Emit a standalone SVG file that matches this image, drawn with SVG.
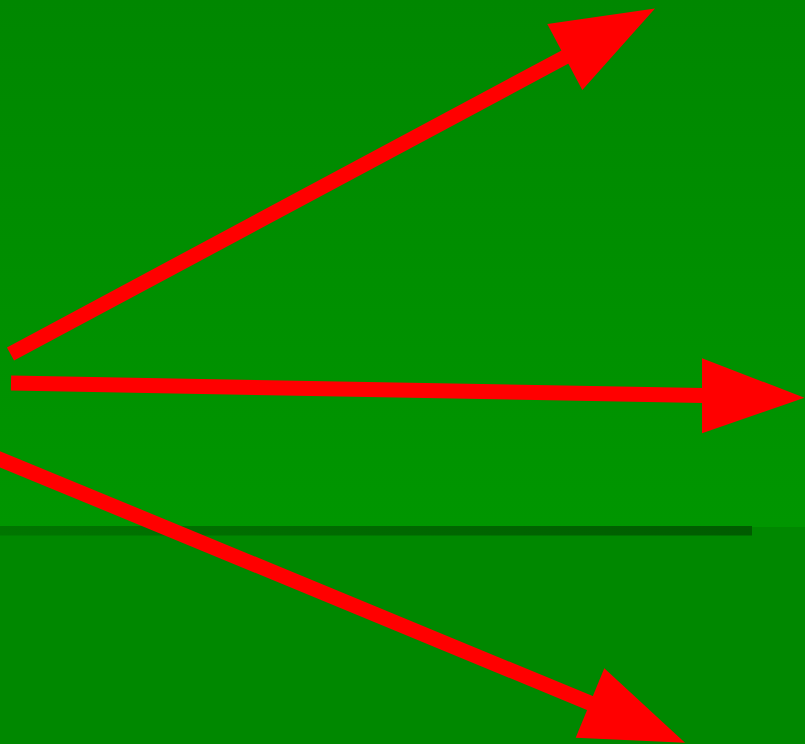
<svg xmlns="http://www.w3.org/2000/svg" width="805" height="744" viewBox="0 0 805 744">
  <defs>
    <linearGradient id="sky" x1="0" y1="0" x2="0" y2="1">
      <stop offset="0" stop-color="#008700"/>
      <stop offset="1" stop-color="#009600"/>
    </linearGradient>
    <linearGradient id="strip" x1="0" y1="0" x2="1" y2="0">
      <stop offset="0" stop-color="#007600"/>
      <stop offset="1" stop-color="#005c00"/>
    </linearGradient>
    <style>
      .shaft { stroke: #ff0000; stroke-width: 15; fill: none; stroke-linecap: butt; }
      .head { fill: #ff0000; stroke: none; }
    </style>
  </defs>
  <rect x="0" y="0" width="805" height="527" fill="url(#sky)"/>
  <rect x="0" y="527" width="805" height="217" fill="#008800"/>
  <rect x="0" y="526" width="752" height="9.5" fill="url(#strip)"/>
  <g id="connectors">
    <g id="arrow-up">
      <line class="shaft" x1="10.5" y1="354" x2="566" y2="56.5"/>
      <polygon class="head" points="655,8.5 547.3,24 582.3,90"/>
    </g>
    <g id="arrow-right">
      <line class="shaft" x1="11" y1="383" x2="703" y2="395.5"/>
      <polygon class="head" points="804.5,397.7 702,358.3 702,433.3"/>
    </g>
    <g id="arrow-down">
      <line class="shaft" x1="-20" y1="451" x2="591" y2="703.5"/>
      <polygon class="head" points="685,742.7 604.3,668.3 575.7,737.7"/>
    </g>
  </g>
</svg>
